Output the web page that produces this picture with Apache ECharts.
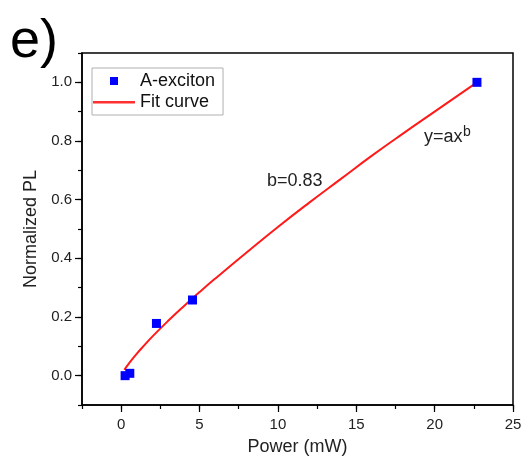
<!DOCTYPE html>
<html>
<head>
<meta charset="utf-8">
<script src="https://cdn.jsdelivr.net/npm/echarts@6/dist/echarts.min.js"></script>
<style>
  html, body { margin: 0; padding: 0; background: #fff; }
  #chart { width: 526px; height: 466px; }
</style>
</head>
<body>
<div id="chart"></div>
<script>
// measured points (A-exciton)
var powerMw = [0.25, 0.55, 2.25, 4.55, 22.7];
var normPl = [0.0, 0.008, 0.178, 0.258, 1.0];

// fit curve
var fitPower = [0.2, 0.5, 1, 1.5, 2, 3, 4, 5, 6, 8, 10, 12, 14, 16, 18, 20, 22.7];
var fitPl = [0.02, 0.042, 0.075, 0.105, 0.134, 0.187, 0.237, 0.285, 0.331, 0.42, 0.507, 0.59, 0.67, 0.75, 0.826, 0.9, 1.0];

// tick labels
var xMajor = [0, 5, 10, 15, 20, 25];
var yMajor = [0, 0.2, 0.4, 0.6, 0.8, 1.0];

var font = 'Liberation Sans, Arial, sans-serif';
var chart = echarts.init(document.getElementById('chart'));

var gridBox = { left: 82, right: 13, top: 53, bottom: 61 };

var option = {
    animation: false,
    backgroundColor: '#fff',
    grid: [
        { left: gridBox.left, right: gridBox.right, top: gridBox.top, bottom: gridBox.bottom,
          show: true, borderColor: '#000', borderWidth: 1.5, backgroundColor: 'transparent' },
        { left: gridBox.left, right: gridBox.right, top: gridBox.top, bottom: gridBox.bottom, show: false }
    ],
    legend: {
        orient: 'vertical',
        left: 92,
        top: 68,
        itemWidth: 42,
        itemHeight: 14,
        itemGap: 3,
        padding: [4, 8, 4, 1],
        borderColor: '#b0b0b0',
        borderWidth: 1,
        textStyle: { fontFamily: font, fontSize: 18, color: '#111' },
        data: [
            { name: 'A-exciton', icon: 'path://M0,0 M42,14 M17,3 L25,3 L25,11 L17,11 Z',
              itemStyle: { color: '#0000ff', opacity: 1 } },
            { name: 'Fit curve', icon: 'path://M0,0 M42,14 M0,6 L42,6 L42,8.5 L0,8.5 Z',
              itemStyle: { color: '#ff3030', borderWidth: 0 }, lineStyle: { width: 0 } }
        ]
    },
    xAxis: [{
        type: 'value',
        gridIndex: 0,
        min: -2.5,
        max: 25,
        interval: 2.5,
        name: 'Power (mW)',
        nameLocation: 'middle',
        nameGap: 33,
        nameTextStyle: { fontFamily: font, fontSize: 18, color: '#222' },
        axisLine: { onZero: false, lineStyle: { color: '#000', width: 1.5 } },
        axisTick: { length: 4, lineStyle: { color: '#000', width: 1.2 } },
        axisLabel: { customValues: xMajor, margin: 12, fontFamily: font, fontSize: 15, color: '#222' },
        splitLine: { show: false }
    }, {
        type: 'value',
        gridIndex: 1,
        min: -2.5,
        max: 25,
        interval: 2.5,
        axisLine: { show: false, onZero: false },
        axisTick: { customValues: xMajor, length: 7, lineStyle: { color: '#000', width: 1.2 } },
        axisLabel: { show: false },
        splitLine: { show: false }
    }],
    yAxis: [{
        type: 'value',
        gridIndex: 0,
        min: -0.1,
        max: 1.1,
        interval: 0.1,
        name: 'Normalized PL',
        nameLocation: 'middle',
        nameGap: 37,
        nameTextStyle: { fontFamily: font, fontSize: 18, color: '#222' },
        axisLine: { onZero: false, lineStyle: { color: '#000', width: 1.5 } },
        axisTick: { length: 4, lineStyle: { color: '#000', width: 1.2 } },
        axisLabel: {
            customValues: yMajor, margin: 10, fontFamily: font, fontSize: 15, color: '#222',
            formatter: function (v) { return v.toFixed(1); }
        },
        splitLine: { show: false }
    }, {
        type: 'value',
        gridIndex: 1,
        min: -0.1,
        max: 1.1,
        interval: 0.1,
        axisLine: { show: false, onZero: false },
        axisTick: { customValues: yMajor, length: 7, lineStyle: { color: '#000', width: 1.2 } },
        axisLabel: { show: false },
        splitLine: { show: false }
    }],
    graphic: [
        { type: 'text', x: 10, y: 42, style: { text: 'e)', fontFamily: font, fontSize: 54, fill: '#000', verticalAlign: 'middle' } },
        { type: 'text', x: 267, y: 181, style: { text: 'b=0.83', fontFamily: font, fontSize: 18, fill: '#222', verticalAlign: 'middle' } },
        { type: 'text', x: 424, y: 137, style: { text: 'y=ax', fontFamily: font, fontSize: 18, fill: '#222', verticalAlign: 'middle' } },
        { type: 'text', x: 463, y: 132, style: { text: 'b', fontFamily: font, fontSize: 14, fill: '#222', verticalAlign: 'middle' } }
    ],
    series: [{
        name: 'Fit curve',
        type: 'line',
        xAxisIndex: 0,
        yAxisIndex: 0,
        smooth: true,
        symbol: 'none',
        lineStyle: { color: '#ff1a1a', width: 2 },
        itemStyle: { color: '#ff1a1a' },
        data: fitPower.map(function (x, i) { return [x, fitPl[i]]; }),
        z: 2
    }, {
        name: 'A-exciton',
        type: 'scatter',
        xAxisIndex: 0,
        yAxisIndex: 0,
        symbol: 'rect',
        symbolSize: 9,
        itemStyle: { color: '#0000ff', opacity: 1 },
        data: powerMw.map(function (x, i) { return [x, normPl[i]]; }),
        z: 3
    }]
};

chart.setOption(option);
</script>
</body>
</html>
